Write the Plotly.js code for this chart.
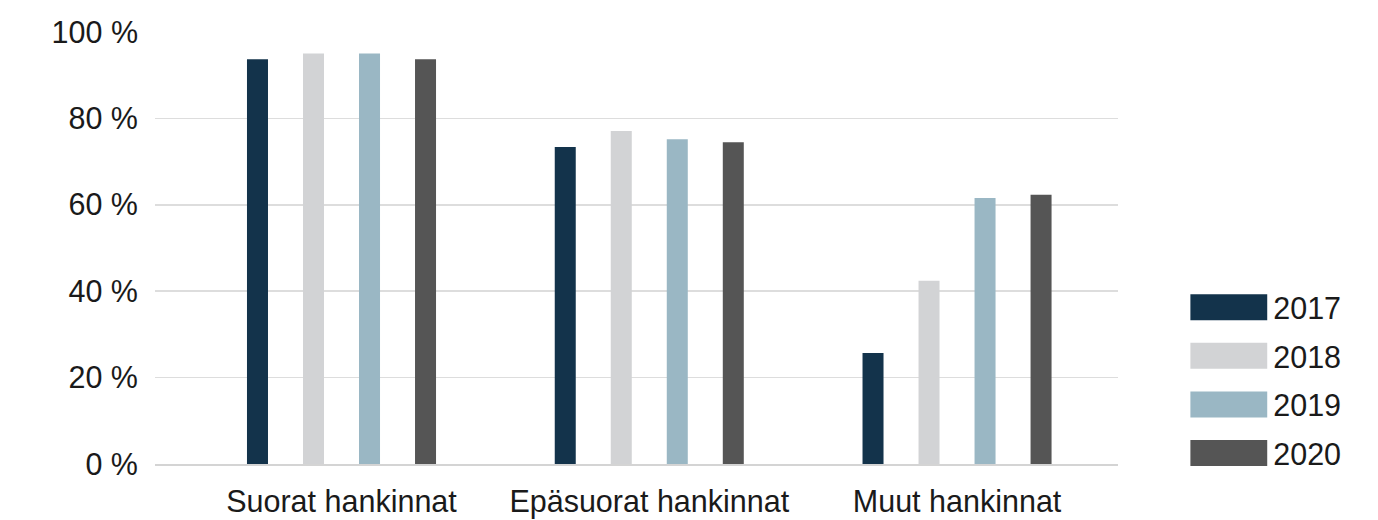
<!DOCTYPE html>
<html>
<head>
<meta charset="utf-8">
<script src="https://cdn.plot.ly/plotly-3.0.1.min.js"></script>
<style>html,body{margin:0;padding:0;background:#fff;}#chart{width:1378px;height:520px;}</style>
</head>
<body>
<div id="chart"></div>
<script>
const categories = ['Suorat hankinnat', 'Epäsuorat hankinnat', 'Muut hankinnat'];
const years = ['2017', '2018', '2019', '2020'];
const v2017 = [93.7, 73.4, 25.7];
const v2018 = [95.0, 77.1, 42.4];
const v2019 = [95.0, 75.2, 61.6];
const v2020 = [93.7, 74.5, 62.3];
const yTicks = [0, 20, 40, 60, 80, 100];

const series = [v2017, v2018, v2019, v2020];
const colors = ['#13334B', '#D2D3D5', '#9AB7C4', '#555555'];
const FONT = 'Liberation Sans, Arial, Helvetica, sans-serif';

const traces = series.map((vals, i) => ({
  type: 'bar',
  name: years[i],
  legendgroup: years[i],
  x: categories,
  y: vals,
  marker: {color: colors[i], line: {width: 0}},
  hoverinfo: 'none'
}));

const layout = {
  width: 1378,
  height: 520,
  margin: {l: 155, r: 260, t: 32, b: 56},
  paper_bgcolor: '#ffffff',
  plot_bgcolor: '#ffffff',
  barmode: 'group',
  bargap: 0.272,
  bargroupgap: 0.625,
  font: {family: FONT, size: 30.5, color: '#1a1a1a'},
  showlegend: true,
  legend: {
    x: 1.075, xanchor: 'left',
    y: 0.424, yanchor: 'top',
    traceorder: 'grouped',
    tracegroupgap: 6,
    itemwidth: 73,
    font: {family: FONT, size: 30.5, color: '#1a1a1a'},
    bgcolor: 'rgba(0,0,0,0)',
    borderwidth: 0
  },
  xaxis: {
    type: 'category',
    range: [-0.606, 2.523],
    showgrid: false,
    showline: true,
    linecolor: '#d4d4d4',
    linewidth: 2,
    ticks: '',
    ticklabelstandoff: 9,
    automargin: false,
    fixedrange: true
  },
  yaxis: {
    range: [0, 100],
    tickvals: yTicks,
    ticktext: yTicks.map(v => v + ' %'),
    showgrid: true,
    gridcolor: '#dddddd',
    gridwidth: 1.5,
    zeroline: false,
    showline: false,
    ticks: '',
    ticklabelstandoff: 16,
    automargin: false,
    fixedrange: true
  }
};

Plotly.newPlot('chart', traces, layout, {displayModeBar: false, staticPlot: true}).then(gd => {
  gd.querySelectorAll('.legend .traces').forEach(tr => {
    const p = tr.querySelector('.legendpoints path');
    const t = tr.querySelector('text.legendtext');
    if (!p || !t) return;
    const tx = parseFloat(t.getAttribute('x')) || 83;
    p.setAttribute('d', 'M-77,-13h77v26h-77Z');
    p.setAttribute('transform', 'translate(' + (tx - 6) + ',0)');
  });
});
</script>
</body>
</html>
